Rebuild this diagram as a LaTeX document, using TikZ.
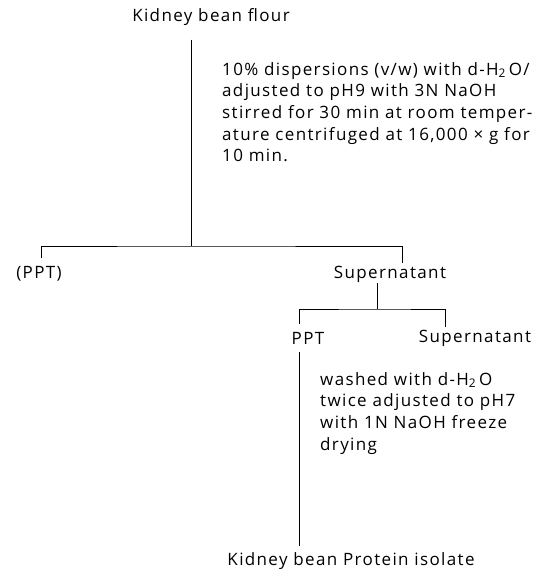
\documentclass[tikz,border=0pt]{standalone}
\usepackage{fontspec}
\setmainfont[LetterSpace=8]{Open Sans}
\usetikzlibrary{positioning}

\begin{document}
\begin{tikzpicture}[x=1pt,y=-1pt,
    every node/.style={font=\fontsize{17}{21.7}\selectfont, inner sep=0pt},
    line/.style={line width=1pt}]
  \useasboundingbox (0,0) rectangle (553,576);

  \node (flour) at (211,17) {Kidney bean flour};
  \coordinate (split1) at (191,246);
  \node[anchor=north west, align=left] (step1) at (222,62)
    {10\% dispersions (v/w) with d-H\textsubscript{2}\,O/\\
     adjusted to pH9 with 3N NaOH\\
     stirred for 30 min at room temper-\\
     ature centrifuged at 16,000 × g for\\
     10 min.};
  \node (ppt1) at (39,274) {(PPT)};
  \node (sup1) at (390,274) {Supernatant};
  \coordinate (split2) at (377,309);
  \node (ppt2) at (308,338) {PPT};
  \node (sup2) at (475,338) {Supernatant};
  \coordinate (pptline) at ([xshift=-9pt]ppt2.south);
  \node[anchor=north west, align=left] (step2) at (320,372)
    {washed with d-H\textsubscript{2}\,O\\
     twice adjusted to pH7\\
     with 1N NaOH freeze\\
     drying};
  \node (isolate) at (351,561) {Kidney bean Protein isolate};

  % first separation
  \draw[line] ([yshift=-14pt]flour.south -| split1) -- (split1);
  \draw[line] ([xshift=2pt,yshift=8pt]ppt1.north) |- (split1)
    -| ([xshift=12pt,yshift=3pt]sup1.north);
  % second separation
  \draw[line] ([yshift=-1pt]sup1.south -| split2) -- (split2);
  \draw[line] ([xshift=-9pt,yshift=8pt]ppt2.north) |- (split2)
    -| ([xshift=-30pt,yshift=3pt]sup2.north);
  \draw[line] ([yshift=-8pt]pptline) -- ([yshift=6pt]isolate.north -| pptline);
\end{tikzpicture}
\end{document}
